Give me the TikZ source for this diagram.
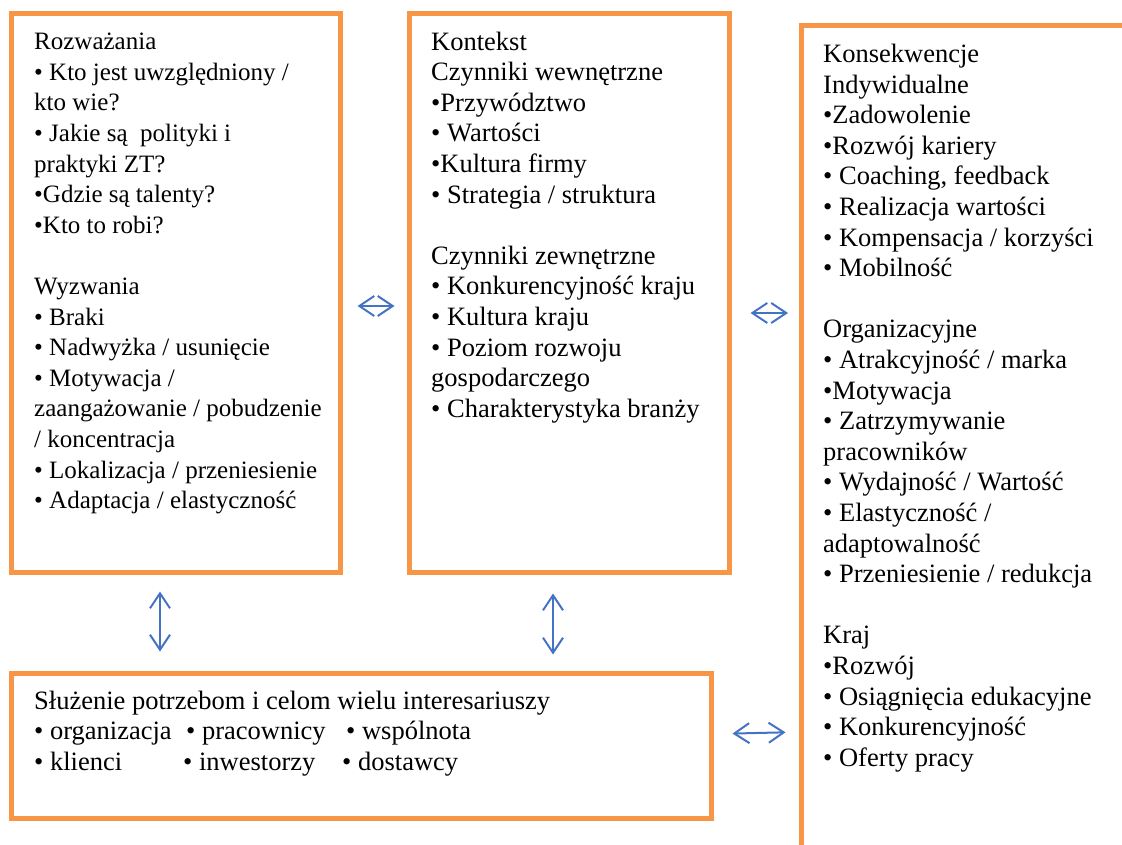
\documentclass[tikz,border=0pt]{standalone}
\usepackage{fontspec}
\setmainfont{Liberation Serif}
\usetikzlibrary{arrows.meta}
\definecolor{boxorange}{RGB}{247,150,70}
\definecolor{arrowblue}{RGB}{68,114,196}
\begin{document}
\begin{tikzpicture}[x=1pt, y=-1pt,
    box/.style = {draw=boxorange, line width=5pt, inner sep=0pt},
    txt/.style = {anchor=north west, inner sep=0pt, align=left, font=\fontsize{26.5}{30.6}\selectfont},
    both/.style = {draw=arrowblue, line width=2pt, >={Straight Barb[length=15pt,width=20pt]}, <->}]
    \useasboundingbox (0,0) rectangle (1122,845);
    \clip (0,0) rectangle (1122,845);
    \node[box, minimum width=329.3, minimum height=559] (ideas) at (175.85,293) {};
    \node[box, minimum width=320, minimum height=559] (context) at (569.5,293) {};
    \node[box, minimum width=348.5, minimum height=854.2] (effects) at (975.75,452.9) {};
    \node[box, minimum width=699.5, minimum height=144.5] (serve) at (361.25,745.75) {};
    \node[txt, font=\fontsize{25}{30.6}\selectfont] (ideastext) at (34,33) {Rozważania\\
        • Kto jest uwzględniony /\\
        kto wie?\\
        • Jakie są~ polityki i\\
        praktyki ZT?\\
        •Gdzie są talenty?\\
        •Kto to robi?\\[30.6pt]
        Wyzwania\\
        • Braki\\
        • Nadwyżka / usunięcie\\
        • Motywacja /\\
        zaangażowanie / pobudzenie\\
        / koncentracja\\
        • Lokalizacja / przeniesienie\\
        • Adaptacja / elastyczność};
    \node[txt] (contexttext) at (431,31.5) {Kontekst\\
        Czynniki wewnętrzne\\
        •Przywództwo\\
        • Wartości\\
        •Kultura firmy\\
        • Strategia / struktura\\[30.6pt]
        Czynniki zewnętrzne\\
        • Konkurencyjność kraju\\
        • Kultura kraju\\
        • Poziom rozwoju\\
        gospodarczego\\
        • Charakterystyka branży};
    \node[txt] (effectstext) at (823,44) {Konsekwencje\\
        Indywidualne\\
        •Zadowolenie\\
        •Rozwój kariery\\
        • Coaching, feedback\\
        • Realizacja wartości\\
        • Kompensacja / korzyści\\
        • Mobilność\\[30.6pt]
        Organizacyjne\\
        • Atrakcyjność / marka\\
        •Motywacja\\
        • Zatrzymywanie\\
        pracowników\\
        • Wydajność / Wartość\\
        • Elastyczność /\\
        adaptowalność\\
        • Przeniesienie / redukcja\\[30.6pt]
        Kraj\\
        •Rozwój\\
        • Osiągnięcia edukacyjne\\
        • Konkurencyjność\\
        • Oferty pracy};
    \node[txt] (servetext) at (34,690.5) {Służenie potrzebom i celom wielu interesariuszy\\
        \makebox[152pt][l]{• organizacja}\makebox[160pt][l]{• pracownicy}• wspólnota\\
        \makebox[149pt][l]{• klienci}\makebox[159pt][l]{• inwestorzy}• dostawcy};
    \draw[both, shorten <=14.5pt, shorten >=12.5pt] (ideas.east |- 0,306) -- (context.west |- 0,306);
    \draw[both, shorten <=18.5pt, shorten >=11pt] (context.east |- 0,313) -- (effects.west |- 0,313);
    \draw[both, shorten <=16.5pt, shorten >=19.5pt] (ideas.south -| 160,0) -- (serve.north -| 160,0);
    \draw[both, shorten <=18.5pt, shorten >=16.5pt] (context.south -| 553,0) -- (serve.north -| 553,0);
    \draw[both, shorten <=19pt, shorten >=13.5pt] (serve.east |- 0,734) -- (effects.west |- 0,732);
\end{tikzpicture}
\end{document}
